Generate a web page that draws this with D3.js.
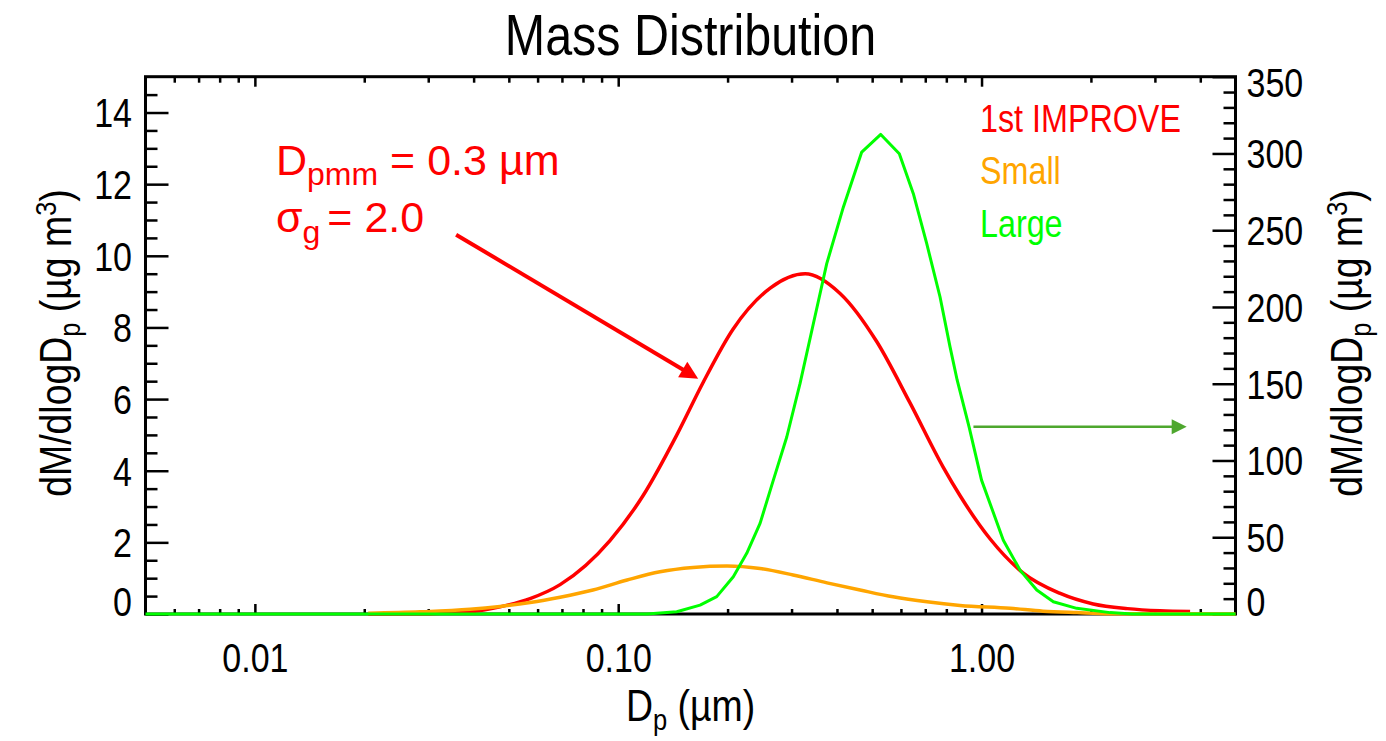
<!DOCTYPE html>
<html>
<head>
<meta charset="utf-8">
<script src="https://cdn.jsdelivr.net/npm/d3@7"></script>
<style>
  html, body { margin: 0; background: #fff; }
  svg text { font-family: "Liberation Sans", Arial, sans-serif; fill: #000; }
</style>
</head>
<body>
<svg id="chart" width="1386" height="741"></svg>
<script>
///// 1. DATA
const X_DOMAIN       = [0.005, 5];          // Dp (µm), log axis
const Y_LEFT_DOMAIN  = [0, 15];             // dM/dlogDp, left axis
const Y_RIGHT_DOMAIN = [0, 350];            // dM/dlogDp, right axis (Large)

const X_MAJOR       = [0.01, 0.1, 1];
const X_MAJOR_TEXT  = ['0.01', '0.10', '1.00'];
const Y_LEFT_MAJOR  = [0, 2, 4, 6, 8, 10, 12, 14];
const Y_RIGHT_MAJOR = [0, 50, 100, 150, 200, 250, 300, 350];

// 1st IMPROVE (left axis)
const IMPROVE_DP = [0.0205, 0.0303, 0.0391, 0.0473, 0.0572, 0.0692, 0.0949, 0.117, 0.145, 0.171,
                    0.207, 0.262, 0.327, 0.408, 0.515, 0.635, 0.784, 0.873, 1.055, 1.30,
                    1.64, 2.03, 2.52, 3.10, 3.75];
const IMPROVE_M  = [0.0, 0.01, 0.06, 0.2, 0.43, 0.82, 2.05, 3.3, 5.0, 6.45,
                    7.95, 9.1, 9.5, 8.95, 7.6, 5.9, 4.1, 3.3, 2.1, 1.15,
                    0.58, 0.28, 0.15, 0.09, 0.07];

// Small (left axis)
const SMALL_DP = [0.0205, 0.0285, 0.0391, 0.0473, 0.0572, 0.0692, 0.0852, 0.1058, 0.1303, 0.1607,
                  0.1993, 0.2457, 0.3029, 0.3756, 0.4631, 0.5708, 0.7079, 0.8726, 1.198, 1.476,
                  1.832, 2.258, 5];
const SMALL_M  = [0.02, 0.06, 0.13, 0.21, 0.32, 0.47, 0.67, 0.95, 1.18, 1.30,
                  1.34, 1.27, 1.09, 0.87, 0.67, 0.48, 0.34, 0.24, 0.16, 0.08,
                  0.04, 0.01, 0];

// Large (right axis)
const LARGE_DP = [0.005, 0.12, 0.1449, 0.168, 0.1867, 0.2074, 0.2258, 0.2457, 0.2673, 0.291,
                  0.3166, 0.3444, 0.3749, 0.4165, 0.468, 0.528, 0.5939, 0.6491, 0.7066, 0.7688,
                  0.819, 0.857, 0.924, 1.0, 1.148, 1.276, 1.419, 1.576, 1.828, 2.258,
                  2.6, 5];
const LARGE_M  = [0, 0, 1.5, 5.8, 11.3, 24.3, 39.5, 59.0, 87.2, 115.3,
                  150.2, 189.1, 228.2, 265.0, 300.9, 312.4, 299.8, 273.8, 241.2, 206.5,
                  174, 152.3, 121.9, 87.2, 48.1, 28.6, 15.6, 8.0, 3.7, 0.9,
                  0, 0];

const LEGEND_TEXT   = ['1st IMPROVE', 'Small', 'Large'];
const LEGEND_COLORS = ['#ff0000', '#ffa500', '#00ff00'];

// annotation arrows, in data units
const RED_ARROW   = { from: [0.0358, 10.59], to: [0.166, 6.57] };   // left axis
const GREEN_ARROW = { from: [0.95, 121.9],   to: [3.67, 121.9] };   // right axis

///// 2. LAYOUT
const M = { left: 145.5, right: 1235.5, top: 76.7, bottom: 614 };
const NARROW = 0.85;             // the plot font is a condensed helvetica

const svg = d3.select('#chart');

const x  = d3.scaleLog().domain(X_DOMAIN).range([M.left, M.right]);
const yL = d3.scaleLinear().domain(Y_LEFT_DOMAIN).range([M.bottom, M.top]);
const yR = d3.scaleLinear().domain(Y_RIGHT_DOMAIN).range([M.bottom, M.top]);

const xMinor  = x.ticks().filter(d => !X_MAJOR.some(m => Math.abs(m - d) < 1e-9)
                                     && d > X_DOMAIN[0] * 1.01 && d < X_DOMAIN[1] * 0.99);
const yLMinor = d3.range(0.5, 15, 0.5).filter(d => d % 2 !== 0);
const yRMinor = d3.range(10, 350, 10).filter(d => d % 50 !== 0);

// squeeze a text horizontally around its own x position
function narrow (sel) {
  sel.each(function () {
    const t = d3.select(this);
    const tx = +t.attr('x') || 0;
    const prev = t.attr('transform') || '';
    t.attr('x', 0).attr('transform', `${prev} translate(${tx},0) scale(${NARROW},1)`);
  });
  return sel;
}

///// 3. AXES + FRAME
function ticks (axis, at) {
  const g = svg.append('g').attr('transform', at).call(axis);
  g.select('.domain').remove();
  g.selectAll('line').attr('stroke', '#000').attr('stroke-width', 2.5);
  return g;
}

// bottom
const gx = ticks(d3.axisBottom(x).tickValues(X_MAJOR).tickSize(-10).tickPadding(30)
                   .tickFormat((d, i) => X_MAJOR_TEXT[i]), `translate(0,${M.bottom})`);
gx.selectAll('text').attr('font-size', 40).attr('fill', '#000').call(narrow);
ticks(d3.axisBottom(x).tickValues(xMinor).tickSize(-5).tickFormat(''), `translate(0,${M.bottom})`);

// top
ticks(d3.axisTop(x).tickValues(X_MAJOR).tickSize(-10).tickFormat(''), `translate(0,${M.top})`);
ticks(d3.axisTop(x).tickValues(xMinor).tickSize(-6).tickFormat(''), `translate(0,${M.top})`);

// left
const gyl = ticks(d3.axisLeft(yL).tickValues(Y_LEFT_MAJOR).tickSize(-23).tickPadding(13.5),
                  `translate(${M.left},0)`);
ticks(d3.axisLeft(yL).tickValues(yLMinor).tickSize(-12).tickFormat(''), `translate(${M.left},0)`);

// right
const gyr = ticks(d3.axisRight(yR).tickValues(Y_RIGHT_MAJOR).tickSize(-23).tickPadding(11),
                  `translate(${M.right},0)`);
ticks(d3.axisRight(yR).tickValues(yRMinor).tickSize(-12).tickFormat(''), `translate(${M.right},0)`);

// end labels are pulled inside the frame, like the original plot does
[[gyl, yL], [gyr, yR]].forEach(([g, s]) => {
  g.selectAll('text')
   .attr('font-size', 40).attr('fill', '#000').attr('dy', '0.36em')
   .attr('y', d => {
     const c = Math.min(Math.max(s(d), M.top + 5), M.bottom - 12.5);
     return c - s(d);
   })
   .call(narrow);
});

svg.append('rect')
   .attr('x', M.left).attr('y', M.top)
   .attr('width', M.right - M.left).attr('height', M.bottom - M.top)
   .attr('fill', 'none').attr('stroke', '#000').attr('stroke-width', 3);

///// 4. CURVES
const lineL = d3.line().x(d => x(d[0])).y(d => yL(d[1])).curve(d3.curveMonotoneX);
const lineR = d3.line().x(d => x(d[0])).y(d => yR(d[1]));

svg.append('path')
   .attr('d', lineL(d3.zip(IMPROVE_DP, IMPROVE_M)))
   .attr('fill', 'none').attr('stroke', LEGEND_COLORS[0]).attr('stroke-width', 3.5);

svg.append('path')
   .attr('d', lineL(d3.zip(SMALL_DP, SMALL_M)))
   .attr('fill', 'none').attr('stroke', LEGEND_COLORS[1]).attr('stroke-width', 3.5);

svg.append('path')
   .attr('d', lineR(d3.zip(LARGE_DP, LARGE_M)))
   .attr('fill', 'none').attr('stroke', LEGEND_COLORS[2]).attr('stroke-width', 3)
   .attr('stroke-linejoin', 'round');

///// 5. TEXT: title, axis titles, legend
function subText (sel, parts) {
  parts.forEach(([t, size, dy, dx, px, py]) => {
    const ts = sel.append('tspan').attr('font-size', size).text(t);
    if (py != null) ts.attr('x', px).attr('y', py);
    else ts.attr('dy', dy);
    if (dx) ts.attr('dx', dx);
  });
  return sel;
}

svg.append('text')
   .attr('transform', `translate(${(M.left + M.right) / 2},55) scale(${NARROW},1)`)
   .attr('text-anchor', 'middle').attr('font-size', 57)
   .text('Mass Distribution');

subText(svg.append('text')
           .attr('transform', `translate(${(M.left + M.right) / 2},721) scale(${NARROW},1)`)
           .attr('text-anchor', 'middle'),
        [['D', 44, 0], ['p', 30, 9], [' (µm)', 44, -9]]);

const yTitle = [['dM/dlogD', 44, 0], ['p', 30, 9], [' (µg m', 44, -9], ['3', 30, -15], [')', 44, 15]];
subText(svg.append('text')
           .attr('transform', `translate(71,343) rotate(-90) scale(${NARROW},1)`)
           .attr('text-anchor', 'middle'), yTitle);
subText(svg.append('text')
           .attr('transform', `translate(1362,343) rotate(-90) scale(${NARROW},1)`)
           .attr('text-anchor', 'middle'), yTitle);

svg.append('g')
   .selectAll('text')
   .data(LEGEND_TEXT)
   .join('text')
     .attr('x', 980)
     .attr('y', (d, i) => 131.7 + i * 52.5)
     .attr('font-size', 38)
     .style('fill', (d, i) => LEGEND_COLORS[i])
     .text(d => d)
     .call(narrow);

///// 6. ANNOTATION
function arrow (g, p1, p2, color, width, headLen, headW) {
  const dx = p2[0] - p1[0], dy = p2[1] - p1[1], len = Math.hypot(dx, dy);
  const ux = dx / len, uy = dy / len;
  const bx = p2[0] - ux * headLen, by = p2[1] - uy * headLen;
  g.append('line')
   .attr('x1', p1[0]).attr('y1', p1[1])
   .attr('x2', bx + ux * 2).attr('y2', by + uy * 2)
   .attr('stroke', color).attr('stroke-width', width);
  g.append('path')
   .attr('d', `M${p2[0]},${p2[1]}L${bx - uy * headW / 2},${by + ux * headW / 2}L${bx + uy * headW / 2},${by - ux * headW / 2}Z`)
   .attr('fill', color);
}

const note = svg.append('g').attr('class', 'note');

arrow(note, [x(RED_ARROW.from[0]), yL(RED_ARROW.from[1])], [x(RED_ARROW.to[0]), yL(RED_ARROW.to[1])],
      '#ff0000', 4, 18, 18);
arrow(note, [x(GREEN_ARROW.from[0]), yR(GREEN_ARROW.from[1])], [x(GREEN_ARROW.to[0]), yR(GREEN_ARROW.to[1])],
      '#4ea72e', 2.5, 15, 15);

// two lines in one text block
subText(note.append('text').attr('x', 276).attr('y', 175).style('fill', '#ff0000'),
        [['D', 43, 0], ['pmm', 32, 10], [' = 0.3 µm', 43, -10],
         ['σ', 43, 0, 0, 276, 231.7], ['g', 32, 11.6], ['= 2.0', 43, -11.6, 7]]);
</script>
</body>
</html>
